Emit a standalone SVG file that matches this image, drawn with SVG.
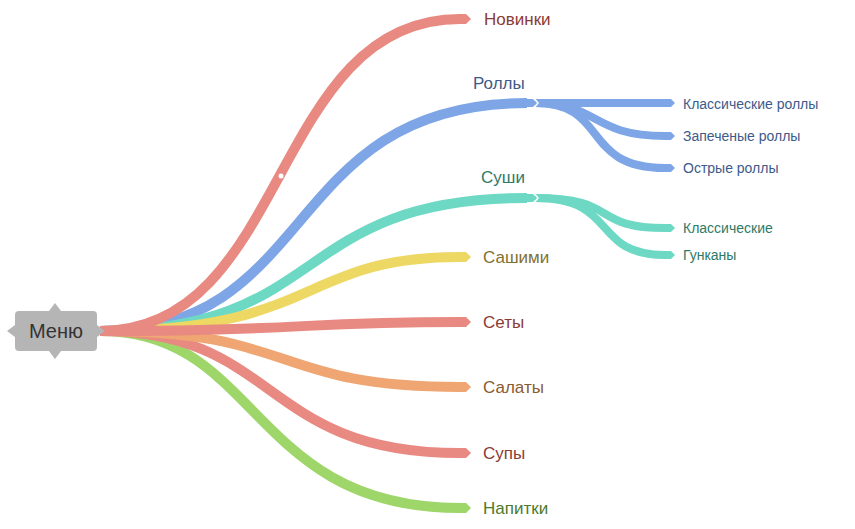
<svg xmlns="http://www.w3.org/2000/svg" width="855" height="529" viewBox="0 0 855 529">
<style>
.b{fill:none;stroke-width:10;stroke-linecap:butt}
.s{fill:none;stroke-width:8}
.t{font-family:"Liberation Sans",Arial,sans-serif;font-size:17px;dominant-baseline:central}
.st{font-family:"Liberation Sans",Arial,sans-serif;font-size:14px;dominant-baseline:central}
</style>
<defs>
<marker id="r" markerUnits="userSpaceOnUse" markerWidth="12" markerHeight="12" refX="0" refY="6" orient="auto" viewBox="0 0 12 12"><path d="M0,1 L6,1 L11,6 L6,11 L0,11z" fill="#e88a82"/></marker>
<marker id="bl" markerUnits="userSpaceOnUse" markerWidth="12" markerHeight="12" refX="0" refY="6" orient="auto" viewBox="0 0 12 12"><path d="M0,2 L6,2 L10,6 L6,10 L0,10z" fill="#7ea6e6"/></marker>
<marker id="te" markerUnits="userSpaceOnUse" markerWidth="12" markerHeight="12" refX="0" refY="6" orient="auto" viewBox="0 0 12 12"><path d="M0,2 L6,2 L10,6 L6,10 L0,10z" fill="#6dd9c4"/></marker>
<marker id="y" markerUnits="userSpaceOnUse" markerWidth="12" markerHeight="12" refX="0" refY="6" orient="auto" viewBox="0 0 12 12"><path d="M0,1 L6,1 L11,6 L6,11 L0,11z" fill="#ecd862"/></marker>
<marker id="o" markerUnits="userSpaceOnUse" markerWidth="12" markerHeight="12" refX="0" refY="6" orient="auto" viewBox="0 0 12 12"><path d="M0,1 L6,1 L11,6 L6,11 L0,11z" fill="#efa672"/></marker>
<marker id="g" markerUnits="userSpaceOnUse" markerWidth="12" markerHeight="12" refX="0" refY="6" orient="auto" viewBox="0 0 12 12"><path d="M0,1 L6,1 L11,6 L6,11 L0,11z" fill="#9ed66a"/></marker>
</defs>
<rect width="855" height="529" fill="#fff"/>
<g id="connectors">
<path class="b" stroke="#9ed66a" marker-end="url(#g)" d="M100,331 C260,331 250,508 460,508"/>
<path class="b" stroke="#e88a82" marker-end="url(#r)" d="M100,331 C280,331 260,453 460,453"/>
<path class="b" stroke="#efa672" marker-end="url(#o)" d="M100,331 C300,331 270,387 460,387"/>
<path class="b" stroke="#7ea6e6" marker-end="url(#bl)" d="M100,331 C320,331 280,103 527,103"/>
<path class="b" stroke="#6dd9c4" marker-end="url(#te)" d="M100,331 C330,331 290,198 527,198"/>
<path class="b" stroke="#ecd862" marker-end="url(#y)" d="M100,331 C320,331 300,257 460,257"/>
<path class="b" stroke="#e88a82" marker-end="url(#r)" d="M100,331 C300,331 300,322 460,322"/>
<path class="b" stroke="#e88a82" marker-end="url(#r)" d="M100,331 C290,331 270,19 460,19"/>
<circle cx="281" cy="176" r="2.5" fill="#fff"/>
<path class="s" stroke="#7ea6e6" marker-end="url(#bl)" d="M535,103 L665,103"/>
<path class="s" stroke="#7ea6e6" marker-end="url(#bl)" d="M535,103 C600,103 590,136 665,136"/>
<path class="s" stroke="#7ea6e6" marker-end="url(#bl)" d="M535,103 C610,103 580,168 665,168"/>
<path class="s" stroke="#6dd9c4" marker-end="url(#te)" d="M535,198 C620,198 590,228 665,228"/>
<path class="s" stroke="#6dd9c4" marker-end="url(#te)" d="M535,198 C620,198 590,255 665,255"/>
<path d="M533,97 L538,103 L533,109" fill="none" stroke="#fff" stroke-width="1.5"/>
<path d="M533,192 L538,198 L533,204" fill="none" stroke="#fff" stroke-width="1.5"/>
</g>
<g id="menu">
<rect x="15" y="311" width="82" height="40" rx="4" fill="#b5b5b5"/>
<path d="M49,311 L55,303 L61,311z M49,351 L55,359 L61,351z M15,325 L7,331 L15,337z M97,325 L105,331 L97,337z" fill="#b5b5b5"/>
<text class="t" x="56" y="331" text-anchor="middle" fill="#333" style="font-size:20px">Меню</text>
</g>
<g id="nodes">
<text class="t" x="484" y="19" fill="#8b3b36">Новинки</text>
<text class="t" x="473" y="83" fill="#3d5a8a">Роллы</text>
<text class="t" x="481" y="177" fill="#2e7a66">Суши</text>
<text class="t" x="483" y="257" fill="#7f7030">Сашими</text>
<text class="t" x="483" y="322" fill="#8b3b36">Сеты</text>
<text class="t" x="483" y="387" fill="#8a5a30">Салаты</text>
<text class="t" x="483" y="453" fill="#8b3b36">Супы</text>
<text class="t" x="483" y="508" fill="#4c7a2c">Напитки</text>
<text class="st" x="683" y="104" fill="#3d5a8a">Классические роллы</text>
<text class="st" x="683" y="136" fill="#3d5a8a">Запеченые роллы</text>
<text class="st" x="683" y="168" fill="#3d5a8a">Острые роллы</text>
<text class="st" x="683" y="228" fill="#2e7a66">Классические</text>
<text class="st" x="683" y="255" fill="#2e7a66">Гунканы</text>
</g>
</svg>
